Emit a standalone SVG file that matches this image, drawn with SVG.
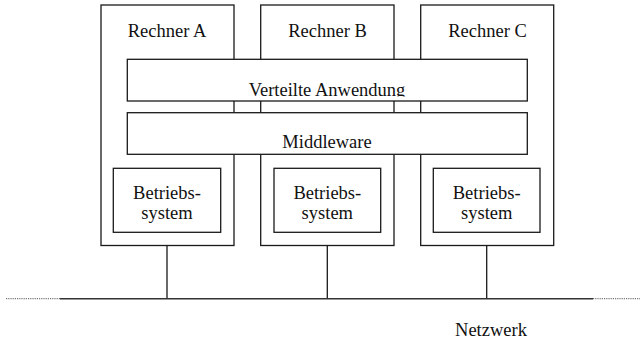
<svg xmlns="http://www.w3.org/2000/svg" width="640" height="339" viewBox="0 0 640 339">
  <style>
    .box { fill: #ffffff; stroke: #1a1a1a; stroke-width: 1.3; }
    .frame { fill: none; stroke: #1a1a1a; stroke-width: 1.3; }
    .lbl { font-family: "Liberation Serif", "Times New Roman", serif; font-size: 18.5px; fill: #111111; text-anchor: middle; }
    .wire { stroke: #1a1a1a; stroke-width: 1.3; fill: none; }
    .bus { stroke: #333333; stroke-width: 1.6; fill: none; }
    .dots { stroke: #777777; stroke-width: 1.2; stroke-dasharray: 1.2 1; fill: none; }
  </style>
  <defs>
    <clipPath id="appClip">
      <rect x="127" y="59" width="401" height="37.6"/>
    </clipPath>
  </defs>

  <rect width="640" height="339" fill="#ffffff"/>

  <!-- computers -->
  <g id="rechner-a">
    <rect class="box" x="101" y="5" width="133" height="240.5"/>
    <text class="lbl" x="167" y="37">Rechner A</text>
  </g>
  <g id="rechner-b">
    <rect class="box" x="260.7" y="5" width="133.3" height="240.5"/>
    <text class="lbl" x="327.5" y="37">Rechner B</text>
  </g>
  <g id="rechner-c">
    <rect class="box" x="420.7" y="5" width="133" height="240.5"/>
    <text class="lbl" x="487.5" y="37">Rechner C</text>
  </g>

  <!-- shared layers spanning all computers -->
  <g id="verteilte-anwendung">
    <rect class="box" x="127.3" y="59.3" width="400" height="41.7"/>
    <text class="lbl" x="327" y="96" clip-path="url(#appClip)">Verteilte Anwendung</text>
  </g>
  <g id="middleware">
    <rect class="box" x="127.3" y="112.7" width="400" height="41.6"/>
    <text class="lbl" x="327" y="147.5">Middleware</text>
  </g>

  <!-- operating systems -->
  <g id="os-a">
    <rect class="box" x="113.3" y="168.3" width="107.4" height="64"/>
    <text class="lbl" x="167" y="198.5">Betriebs-</text>
    <text class="lbl" x="167" y="219">system</text>
  </g>
  <g id="os-b">
    <rect class="box" x="274" y="168.3" width="106.7" height="64"/>
    <text class="lbl" x="327.3" y="198.5">Betriebs-</text>
    <text class="lbl" x="327.3" y="219">system</text>
  </g>
  <g id="os-c">
    <rect class="box" x="433.3" y="168.3" width="106.7" height="64"/>
    <text class="lbl" x="486.7" y="198.5">Betriebs-</text>
    <text class="lbl" x="486.7" y="219">system</text>
  </g>

  <!-- network -->
  <g id="connectors">
    <line class="wire" x1="167" y1="245.5" x2="167" y2="298.7"/>
    <line class="wire" x1="327.3" y1="245.5" x2="327.3" y2="298.7"/>
    <line class="wire" x1="486.7" y1="245.5" x2="486.7" y2="298.7"/>
    <line class="bus" x1="60" y1="298.7" x2="593" y2="298.7"/>
    <line class="dots" x1="6" y1="298.7" x2="60" y2="298.7"/>
    <line class="dots" x1="593" y1="298.7" x2="640" y2="298.7"/>
  </g>

  <g id="netzwerk">
    <text class="lbl" x="491" y="335.5">Netzwerk</text>
  </g>
</svg>
